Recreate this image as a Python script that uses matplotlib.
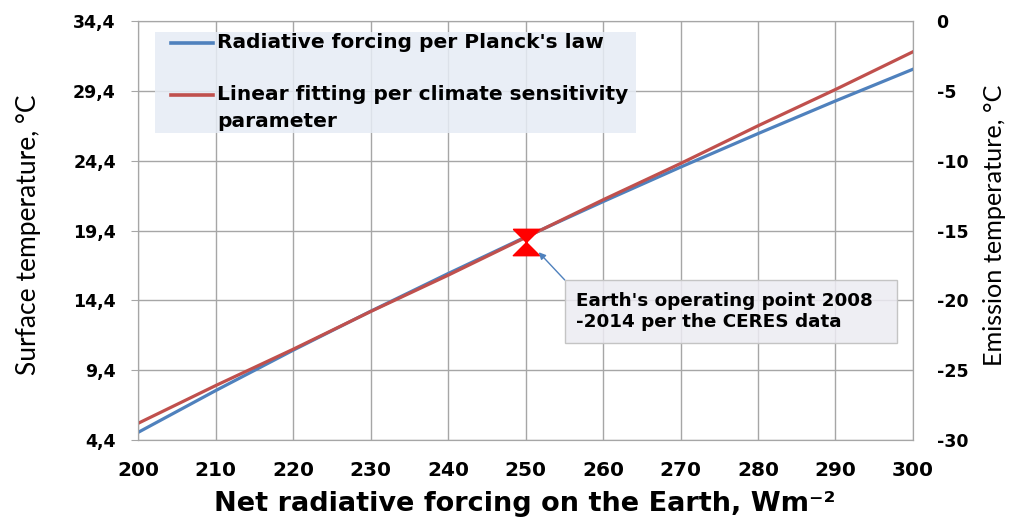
import numpy as np
import matplotlib.pyplot as plt
from matplotlib.path import Path
from matplotlib.patches import Rectangle
from matplotlib.ticker import FuncFormatter

plt.rcParams['font.family'] = ['DejaVu Sans']
plt.rcParams['axes.unicode_minus'] = False

# net radiative forcing, W/m2
forcing = [200, 210, 220, 230, 240, 250, 260, 270, 280, 290, 300]
# surface temperature (°C) from Planck's law
planck = [4.95, 7.94, 10.83, 13.62, 16.32, 18.94, 21.47, 23.94, 26.34, 28.68, 30.95]
# surface temperature (°C) from the linear climate sensitivity fit
linear = [5.6, 8.3, 10.9, 13.6, 16.2, 18.9, 21.6, 24.2, 26.9, 29.5, 32.2]

op_x = 250
op_y = 18.55

left_ticks = [4.4, 9.4, 14.4, 19.4, 24.4, 29.4, 34.4]
right_ticks = [-30, -25, -20, -15, -10, -5, 0]
x_ticks = forcing

series_names = ["Radiative forcing per Planck's law",
                "Linear fitting per climate sensitivity\nparameter"]

blue = '#4F81BD'
red = '#C0504D'
grid_c = '#A6A6A6'

fig = plt.figure(figsize=(10.15, 5.19), dpi=100)
ax = fig.add_axes([0.136, 0.152, 0.7635, 0.8075])

ax.plot(forcing, planck, color=blue, lw=2.3, zorder=3)
ax.plot(forcing, linear, color=red, lw=2.3, zorder=4)

# hourglass marker for the operating point
hourglass = Path([(-1, 1), (1, 1), (-1, -1), (1, -1), (-1, 1)])
ax.plot([op_x], [op_y], marker=hourglass, ms=19, color='#FF0000', mec='#FF0000', zorder=5)

ax.set_xlim(200, 300)
ax.set_ylim(4.4, 34.4)
ax.set_xticks(x_ticks)
ax.set_yticks(left_ticks)
ax.yaxis.set_major_formatter(FuncFormatter(lambda v, p: f"{v:.1f}".replace('.', ',')))
ax.grid(True, color=grid_c, lw=1)
ax.set_axisbelow(True)
for s in ax.spines.values():
    s.set_color(grid_c)
ax.tick_params(axis='y', length=5, color=grid_c, pad=11, labelsize=12.5)
ax.tick_params(axis='x', length=0, pad=15, labelsize=14.5)
for lab in ax.get_xticklabels() + ax.get_yticklabels():
    lab.set_fontweight('bold')

ax2 = ax.twinx()
ax2.set_ylim(-30, 0)
ax2.set_yticks(right_ticks)
ax2.tick_params(axis='y', length=0, pad=17, labelsize=12.5)
for lab in ax2.get_yticklabels():
    lab.set_fontweight('bold')
for s in ax2.spines.values():
    s.set_color(grid_c)

# axis titles
fig.text(29 / 1015, 1 - 235 / 519, 'Surface temperature, °C', rotation=90,
         ha='center', va='center', fontsize=19, fontfamily='Lato')
fig.text(995 / 1015, 1 - 225 / 519, 'Emission temperature, °C', rotation=90,
         ha='center', va='center', fontsize=18.2, fontfamily='Lato')
fig.text(525 / 1015, 1 - 504 / 519, 'Net radiative forcing on the Earth, Wm⁻²',
         ha='center', va='center', fontsize=19.5, fontweight='bold')

# legend panel, drawn by hand so the red key sits on the first text line
ax.add_patch(Rectangle((0.0219, 0.7327), 0.6207, 0.241, transform=ax.transAxes,
                       fc='#E6ECF5', ec='none', alpha=0.85, zorder=6))
key_y = [0.9475, 0.8234]
for name, col, ky in zip(series_names, [blue, red], key_y):
    ax.plot([0.0426, 0.0968], [ky, ky], color=col, lw=2.6,
            transform=ax.transAxes, zorder=7, clip_on=False)
    ax.text(0.1019, ky + 0.023, name, transform=ax.transAxes, ha='left', va='top',
            fontsize=14.5, fontweight='bold', linespacing=1.52, zorder=7)

ax.annotate("Earth's operating point 2008  \n-2014 per the CERES data",
            xy=(251.7, 17.85), xytext=(256.5, 13.6),
            fontsize=13.2, fontweight='bold', ha='left', va='center', linespacing=1.25,
            bbox=dict(boxstyle='square,pad=0.62', fc=(0.925, 0.92, 0.95, 0.85),
                      ec='#C4C4C4', lw=1),
            arrowprops=dict(arrowstyle='-|>', color=blue, lw=1, mutation_scale=10,
                            shrinkA=0, shrinkB=0, relpos=(0, 1)),
            zorder=8)

fig.savefig('out.png', dpi=100)
